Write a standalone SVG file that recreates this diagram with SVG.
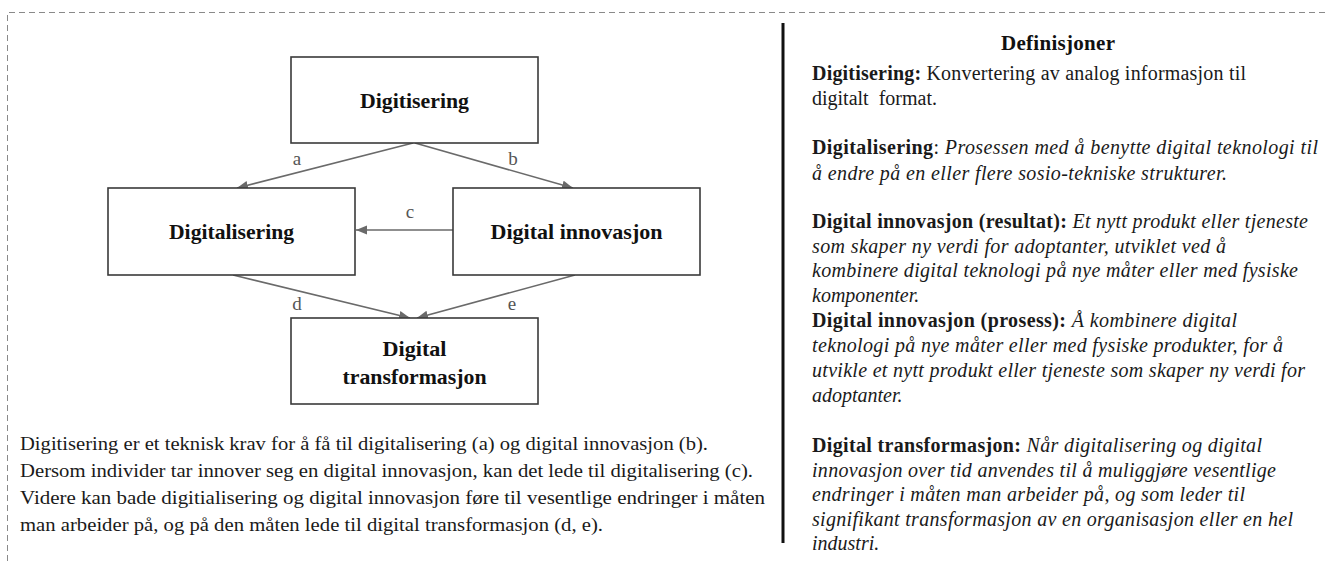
<svg xmlns="http://www.w3.org/2000/svg" width="1328" height="561" viewBox="0 0 1328 561">
  <style>
    .frame { fill: none; stroke: #8a8a8a; stroke-width: 1; stroke-dasharray: 6 4; }
    .divider { stroke: #111; stroke-width: 3; }
    .box { fill: #fff; stroke: #3a3a3a; stroke-width: 1.6; }
    .node-label { font-family: "Liberation Serif", "Times New Roman", serif; font-weight: bold; font-size: 22px; fill: #111; text-anchor: middle; }
    .edge { fill: none; stroke: #6a6a6a; stroke-width: 1.6; }
    .edge-label { font-family: "Liberation Serif", "Times New Roman", serif; font-size: 19px; fill: #555; text-anchor: middle; }
    .body { font-family: "Liberation Serif", "Times New Roman", serif; font-size: 19.5px; fill: #1a1a1a; }
    .def { font-family: "Liberation Serif", "Times New Roman", serif; font-size: 20px; fill: #1a1a1a; }
    .b { font-weight: bold; }
    .i { font-style: italic; }
    .title { font-family: "Liberation Serif", "Times New Roman", serif; font-size: 21px; font-weight: bold; fill: #111; text-anchor: middle; }
  </style>
  <defs>
    <marker id="arrow" markerUnits="userSpaceOnUse" markerWidth="12" markerHeight="10" refX="11" refY="4.5" orient="auto">
      <path d="M0,0 L11,4.5 L0,9 z" fill="#6a6a6a"/>
    </marker>
  </defs>

  <rect width="1328" height="561" fill="#fff"/>

  <!-- dashed page frame (top and left edges) -->
  <path class="frame" d="M7.5,561 L7.5,12.5 L1328,12.5"/>

  <!-- connectors -->
  <g id="connectors">
    <path class="edge" d="M413,143 L237,188" marker-end="url(#arrow)"/>
    <path class="edge" d="M415,143 L573,188" marker-end="url(#arrow)"/>
    <path class="edge" d="M453,230 L356,230" marker-end="url(#arrow)"/>
    <path class="edge" d="M233,275 L410,318" marker-end="url(#arrow)"/>
    <path class="edge" d="M575,275 L417,318" marker-end="url(#arrow)"/>
    <text class="edge-label" x="297" y="165">a</text>
    <text class="edge-label" x="513" y="165">b</text>
    <text class="edge-label" x="410" y="218">c</text>
    <text class="edge-label" x="297" y="310">d</text>
    <text class="edge-label" x="512" y="310">e</text>
  </g>

  <!-- nodes -->
  <g id="node-digitisering">
    <rect class="box" x="291" y="57" width="247" height="86"/>
    <text class="node-label" x="414.5" y="108" textLength="109" lengthAdjust="spacingAndGlyphs">Digitisering</text>
  </g>
  <g id="node-digitalisering">
    <rect class="box" x="108" y="188" width="247" height="87"/>
    <text class="node-label" x="231.5" y="239" textLength="125" lengthAdjust="spacingAndGlyphs">Digitalisering</text>
  </g>
  <g id="node-digital-innovasjon">
    <rect class="box" x="453" y="188" width="247" height="87"/>
    <text class="node-label" x="576.5" y="239" textLength="172" lengthAdjust="spacingAndGlyphs">Digital innovasjon</text>
  </g>
  <g id="node-digital-transformasjon">
    <rect class="box" x="291" y="318" width="247" height="86"/>
    <text class="node-label" x="414.5" y="356" textLength="64" lengthAdjust="spacingAndGlyphs">Digital</text>
    <text class="node-label" x="414.5" y="384" textLength="144" lengthAdjust="spacingAndGlyphs">transformasjon</text>
  </g>

  <!-- explanatory paragraph -->
  <g id="caption" class="body">
    <text x="20" y="450" textLength="688" lengthAdjust="spacingAndGlyphs">Digitisering er et teknisk krav for å få til digitalisering (a) og digital innovasjon (b).</text>
    <text x="20" y="477" textLength="733" lengthAdjust="spacingAndGlyphs">Dersom individer tar innover seg en digital innovasjon, kan det lede til digitalisering (c).</text>
    <text x="20" y="504" textLength="745" lengthAdjust="spacingAndGlyphs">Videre kan bade digitialisering og digital innovasjon føre til vesentlige endringer i måten</text>
    <text x="20" y="531" textLength="583" lengthAdjust="spacingAndGlyphs">man arbeider på, og på den måten lede til digital transformasjon (d, e).</text>
  </g>

  <!-- divider -->
  <line class="divider" x1="783" y1="23" x2="783" y2="543"/>

  <!-- definitions -->
  <g id="definitions" class="def">
    <text class="title" x="1058" y="50" textLength="114" lengthAdjust="spacing">Definisjoner</text>
    <text x="812" y="80" textLength="434" lengthAdjust="spacing"><tspan class="b">Digitisering:</tspan> Konvertering av analog informasjon til</text>
    <text x="812" y="105" xml:space="preserve">digitalt  format.</text>
    <text x="812" y="154" textLength="506" lengthAdjust="spacing"><tspan class="b">Digitalisering</tspan>: <tspan class="i">Prosessen med å benytte digital teknologi til</tspan></text>
    <text x="812" y="180" class="i" textLength="415" lengthAdjust="spacing">å endre på en eller flere sosio-tekniske strukturer.</text>
    <text x="812" y="228" textLength="496" lengthAdjust="spacing"><tspan class="b">Digital innovasjon (resultat):</tspan> <tspan class="i">Et nytt produkt eller tjeneste</tspan></text>
    <text x="812" y="253" class="i" textLength="414" lengthAdjust="spacing">som skaper ny verdi for adoptanter, utviklet ved å</text>
    <text x="812" y="277" class="i" textLength="486" lengthAdjust="spacing">kombinere digital teknologi på nye måter eller med fysiske</text>
    <text x="812" y="302" class="i">komponenter.</text>
    <text x="812" y="327" textLength="425" lengthAdjust="spacing"><tspan class="b">Digital innovasjon (prosess):</tspan> <tspan class="i">Å kombinere digital</tspan></text>
    <text x="812" y="352" class="i" textLength="471" lengthAdjust="spacing">teknologi på nye måter eller med fysiske produkter, for å</text>
    <text x="812" y="377" class="i" textLength="493" lengthAdjust="spacing">utvikle et nytt produkt eller tjeneste som skaper ny verdi for</text>
    <text x="812" y="402" class="i">adoptanter.</text>
    <text x="812" y="452" textLength="450" lengthAdjust="spacing"><tspan class="b">Digital transformasjon:</tspan> <tspan class="i">Når digitalisering og digital</tspan></text>
    <text x="812" y="477" class="i" textLength="464" lengthAdjust="spacing">innovasjon over tid anvendes til å muliggjøre vesentlige</text>
    <text x="812" y="501" class="i" textLength="433" lengthAdjust="spacing">endringer i måten man arbeider på, og som leder til</text>
    <text x="812" y="526" class="i" textLength="481" lengthAdjust="spacing">signifikant transformasjon av en organisasjon eller en hel</text>
    <text x="812" y="550" class="i">industri.</text>
  </g>
</svg>
